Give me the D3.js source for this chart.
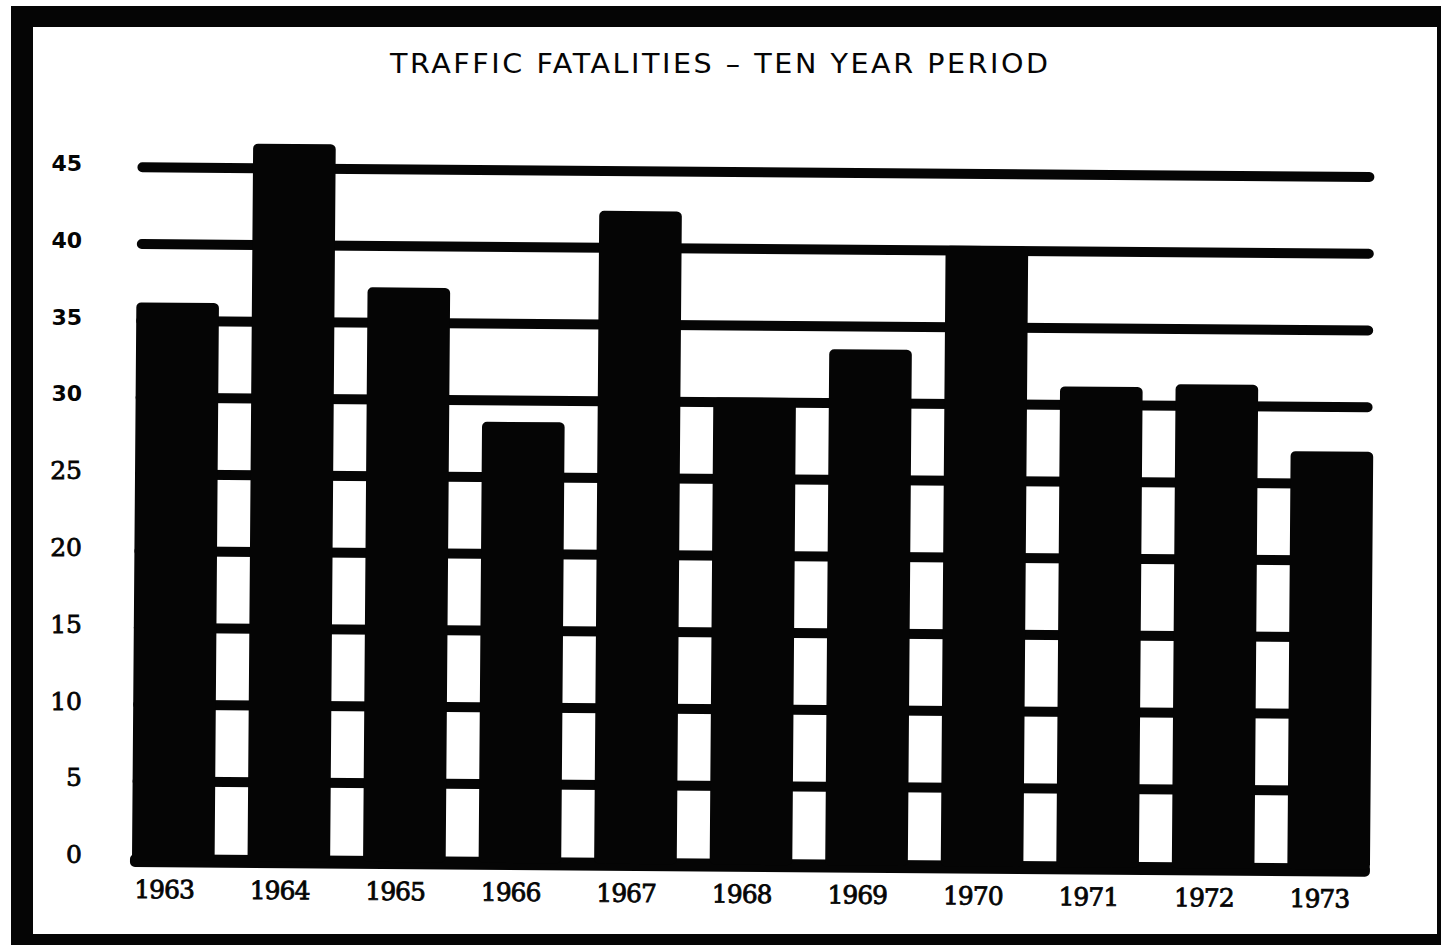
<!DOCTYPE html>
<html>
<head>
<meta charset="utf-8">
<script src="https://cdn.jsdelivr.net/npm/d3@7"></script>
<style>
  html, body { margin: 0; padding: 0; background: #fff; }
  svg { display: block; }
</style>
</head>
<body>
<div id="chart"></div>
<script>
// data
var years = ['1963', '1964', '1965', '1966', '1967', '1968', '1969', '1970', '1971', '1972', '1973'];
var fatalities = [36.2, 46.6, 37.3, 28.6, 42.4, 30.3, 33.5, 40.3, 31.2, 31.4, 27.1];
var yTicks = [0, 5, 10, 15, 20, 25, 30, 35, 40, 45];
var title = 'TRAFFIC FATALITIES – TEN YEAR PERIOD';

var W = 1441, H = 945;
var ink = '#050505';

var svg = d3.select('#chart')
    .append('svg')
    .attr('width', W)
    .attr('height', H);

// black frame round the sheet
svg.append('rect')
    .attr('x', 11).attr('y', 6)
    .attr('width', W).attr('height', H)
    .attr('fill', ink);
svg.append('rect')
    .attr('x', 33).attr('y', 27)
    .attr('width', 1404).attr('height', 907)
    .attr('fill', '#fff');

// Scales
var xScale = d3.scaleBand()
    .domain(years)
    .range([132, 1370])
    .paddingInner(0.285)
    .paddingOuter(0);
var yScale = d3.scaleLinear()
    .domain([0, 45])
    .range([858, 167.25]);

// Title (wide lettering, so the face is stretched sideways)
var titleScale = 1.1;
svg.append('text')
    .attr('transform', 'translate(719,73) scale(' + titleScale + ',1)')
    .attr('text-anchor', 'middle')
    .attr('textLength', 658 / titleScale)
    .attr('lengthAdjust', 'spacing')
    .style('font-family', '"DejaVu Sans", sans-serif')
    .style('font-size', '26px')
    .style('fill', ink)
    .text(title);

// Y labels (the scan mixes a sans face above 25 and a serif one below)
svg.selectAll('.ylab')
    .data(yTicks)
    .enter().append('text')
    .attr('class', 'ylab')
    .attr('x', 82)
    .attr('y', function (d) { return yScale(d) - 4; })
    .attr('dy', '.36em')
    .attr('text-anchor', 'end')
    .style('font-family', function (d) {
        return d >= 30 ? '"DejaVu Sans", sans-serif' : '"DejaVu Serif", serif';
    })
    .style('font-weight', function (d) { return d >= 30 ? 'bold' : 'normal'; })
    .style('font-size', function (d) { return d >= 30 ? '22px' : '25px'; })
    .style('fill', ink)
    .style('stroke', ink)
    .style('stroke-width', function (d) { return d >= 30 ? 0 : 0.8; })
    .text(function (d) { return d; });

// plot body, slightly skewed like the photographed sheet
var plot = svg.append('g')
    .attr('transform', 'rotate(0.45,' + xScale.range()[0] + ',' + yScale(0) + ')');

var x0 = xScale.range()[0], x1 = xScale.range()[1];

// gridlines
plot.selectAll('.grid')
    .data(yTicks.filter(function (d) { return d > 0; }))
    .enter().append('line')
    .attr('class', 'grid')
    .attr('x1', x0 + 5)
    .attr('x2', x1 - 6)
    .attr('y1', function (d) { return yScale(d); })
    .attr('y2', function (d) { return yScale(d); })
    .attr('stroke', ink)
    .attr('stroke-width', 10)
    .attr('stroke-linecap', 'round');

// base band
plot.append('rect')
    .attr('x', x0 - 2)
    .attr('y', yScale(0) - 4)
    .attr('width', x1 - x0 + 2)
    .attr('height', 13)
    .attr('rx', 5)
    .attr('fill', ink);

// bars
plot.selectAll('.bar')
    .data(fatalities)
    .enter().append('rect')
    .attr('class', 'bar')
    .attr('x', function (d, i) { return xScale(years[i]); })
    .attr('width', xScale.bandwidth())
    .attr('y', function (d) { return yScale(d); })
    .attr('height', function (d) { return yScale(0) - yScale(d) + 2; })
    .attr('rx', 5)
    .attr('fill', ink);

// year labels
plot.selectAll('.xlab')
    .data(years)
    .enter().append('text')
    .attr('class', 'xlab')
    .attr('x', function (d) { return xScale(d) + xScale.bandwidth() / 2 - 9; })
    .attr('y', yScale(0) + 40)
    .attr('text-anchor', 'middle')
    .style('font-family', '"DejaVu Serif", serif')
    .style('font-size', '25px')
    .style('letter-spacing', '-1px')
    .style('fill', ink)
    .style('stroke', ink)
    .style('stroke-width', 0.8)
    .text(function (d) { return d; });
</script>
</body>
</html>
